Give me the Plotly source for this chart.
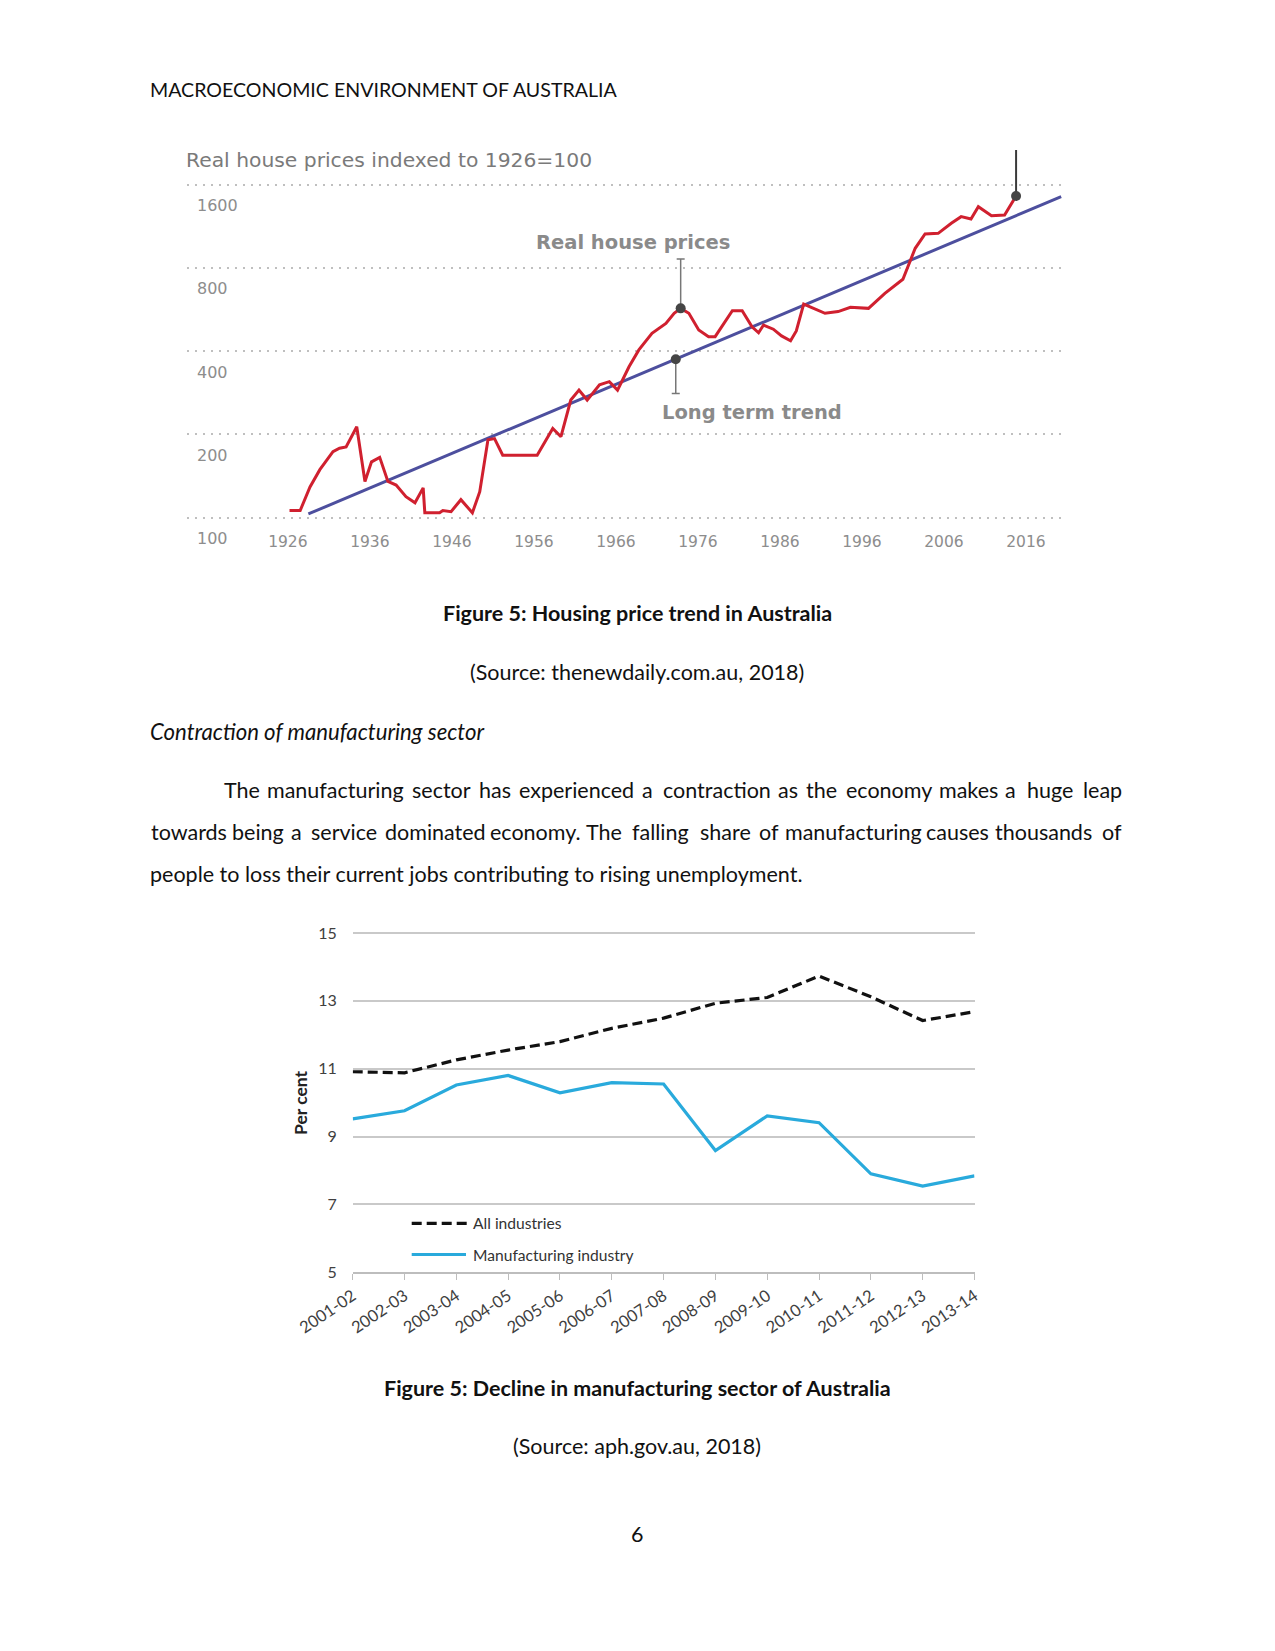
import plotly.graph_objects as go
import math

W, H = 1275, 1651

# ---------------- Chart 1 data: real house prices (index 1926=100) ----------------
house_years = [1926.2, 1927.5, 1928.7, 1929.9, 1931.5, 1932.3, 1933.1, 1934.4, 1935.4, 1936.2,
               1937.2, 1938.2, 1939.2, 1940.4, 1941.5, 1942.5, 1942.7, 1944.5, 1944.9, 1945.9,
               1947.1, 1948.5, 1949.4, 1950.4, 1951.2, 1952.2, 1956.4, 1958.3, 1959.3, 1960.5,
               1961.5, 1962.5, 1964.0, 1965.2, 1966.2, 1967.6, 1968.8, 1970.4, 1972.1, 1973.1,
               1973.9, 1974.9, 1976.1, 1977.3, 1978.1, 1979.4, 1980.2, 1981.4, 1982.6, 1983.4,
               1984.0, 1985.2, 1986.2, 1987.3, 1988.0, 1988.9, 1990.1, 1991.5, 1993.1, 1994.6,
               1996.8, 1998.8, 2001.0, 2001.6, 2002.5, 2003.7, 2005.3, 2006.9, 2008.1, 2009.3,
               2010.2, 2011.8, 2013.4, 2014.8]
house_index = [106, 106, 129, 149, 173, 178, 180, 213, 135, 159,
               165, 135, 131, 119, 113, 128, 104, 104, 106, 105,
               116, 104, 124, 191, 193, 168, 168, 210, 196, 266,
               289, 266, 302, 310, 289, 351, 404, 464, 504, 548,
               571, 548, 477, 451, 451, 518, 560, 560, 490, 466,
               497, 480, 454, 436, 473, 592, 571, 548, 556, 576,
               571, 647, 728, 808, 942, 1061, 1067, 1160, 1226, 1202,
               1332, 1236, 1243, 1456]
trend_years = [1928.5, 2020.3]
trend_index = [103, 1448]
# highlighted points: (year, value, error up, error down)
price_mark = (1973.9, 571, 291, 0)
trend_mark = (1973.3, 374, 0, 93)
latest_mark = (2014.8, 1456, 680, 0)
c1_year_ticks = [1926, 1936, 1946, 1956, 1966, 1976, 1986, 1996, 2006, 2016]
c1_value_ticks = [100, 200, 400, 800, 1600]

# ---------------- Chart 2 data ----------------
fy_labels = ["2001-02", "2002-03", "2003-04", "2004-05", "2005-06", "2006-07", "2007-08",
             "2008-09", "2009-10", "2010-11", "2011-12", "2012-13", "2013-14"]
all_industries = [10.91, 10.88, 11.26, 11.55, 11.80, 12.19, 12.49, 12.93, 13.10, 13.73, 13.12, 12.42, 12.68]
manufacturing = [9.52, 9.76, 10.52, 10.80, 10.29, 10.59, 10.55, 8.59, 9.61, 9.41, 7.90, 7.54, 7.84]
c2_value_ticks = [5, 7, 9, 11, 13, 15]


def px(x):
    return x / W


def py(y):
    return 1 - y / H


BODY = "Lato"
CH1 = "DejaVu Sans"
GREY1 = "#8d8d8d"

fig = go.Figure()

# ---- chart 1 traces ----
fig.add_trace(go.Scatter(x=trend_years, y=trend_index, mode="lines",
                         line=dict(color="#4d4f9e", width=3), xaxis="x", yaxis="y",
                         showlegend=False, hoverinfo="skip"))
fig.add_trace(go.Scatter(x=house_years, y=house_index, mode="lines",
                         line=dict(color="#d0202f", width=3), xaxis="x", yaxis="y",
                         showlegend=False))
for (mx, mv, up, dn), cap, ecol, ew in [(price_mark, 4, "#777777", 1.5),
                                        (trend_mark, 4, "#777777", 1.5),
                                        (latest_mark, 0, "#3a3a3a", 2)]:
    fig.add_trace(go.Scatter(x=[mx], y=[mv], mode="markers",
                             marker=dict(color="#454545", size=10),
                             error_y=dict(type="data", symmetric=False, array=[up], arrayminus=[dn],
                                          color=ecol, thickness=ew, width=cap),
                             xaxis="x", yaxis="y", showlegend=False))

# ---- chart 2 traces ----
fig.add_trace(go.Scatter(x=fy_labels, y=all_industries, mode="lines", name="All industries",
                         line=dict(color="#111111", width=3.2, dash="10px,5px"),
                         xaxis="x2", yaxis="y2", showlegend=False))
fig.add_trace(go.Scatter(x=fy_labels, y=manufacturing, mode="lines", name="Manufacturing industry",
                         line=dict(color="#29aadc", width=3.2),
                         xaxis="x2", yaxis="y2", showlegend=False))

# axis geometry (pixel measurements of the page)
c1_left, c1_right, c1_top, c1_bottom = 187, 1062, 140, 530
ylog_lo, ylog_hi = 1.9548, 3.3658
c2_left, c2_right = 352.7, 974.5
c2_bottom = 1272.3
c2_ymax = 15.3
c2_top = c2_bottom - (c2_ymax - 5) * 33.93

fig.update_layout(
    width=W, height=H, margin=dict(l=0, r=0, t=0, b=0, autoexpand=False),
    paper_bgcolor="white", plot_bgcolor="rgba(0,0,0,0)",
    xaxis=dict(domain=[px(c1_left), px(c1_right)], range=[1913.7, 2020.4],
               tickvals=c1_year_ticks, ticktext=[str(v) for v in c1_year_ticks],
               showgrid=False, zeroline=False, showline=False, ticks="", automargin=False,
               tickfont=dict(family=CH1, size=15.5, color=GREY1), ticklabelstandoff=0),
    yaxis=dict(domain=[py(c1_bottom), py(c1_top)], type="log", range=[ylog_lo, ylog_hi],
               tickvals=c1_value_ticks, showticklabels=False, showgrid=True, automargin=False,
               gridcolor="#bfbfbf", gridwidth=1.6, griddash="2px,6px",
               zeroline=False, showline=False, ticks=""),
    xaxis2=dict(domain=[px(c2_left), px(c2_right)], type="category", range=[0, 12],
                anchor="y2", showgrid=False, zeroline=False, showline=True, automargin=False,
                linecolor="#bdbdbd", linewidth=1.5, ticks="outside", ticklen=6,
                tickcolor="#bdbdbd", tickwidth=1.2, tickangle=-34,
                tickfont=dict(family=BODY, size=16.5, color="#404040")),
    yaxis2=dict(domain=[py(c2_bottom), py(c2_top)], range=[5, c2_ymax], anchor="x2",
                tickvals=c2_value_ticks, showgrid=True, gridcolor="#c9c9c9", gridwidth=1.5,
                zeroline=False, showline=False, ticks="", ticklabelstandoff=15, automargin=False,
                tickfont=dict(family=BODY, size=16, color="#404040")),
)

ann = []
# chart 1 y labels (sit below their gridlines)
for v in c1_value_ticks:
    ann.append(dict(x=px(195), xref="paper", y=math.log10(v), yref="y", yshift=-21,
                    text=str(v), showarrow=False, xanchor="left", yanchor="middle",
                    font=dict(family=CH1, size=16, color=GREY1)))
ann.append(dict(x=px(184), y=py(160), xref="paper", yref="paper",
                text="Real house prices indexed to 1926=100", showarrow=False,
                xanchor="left", yanchor="middle", font=dict(family=CH1, size=20.3, color="#7a7a7a")))
ann.append(dict(x=px(632.5), y=py(242), xref="paper", yref="paper",
                text="<b>Real house prices</b>", showarrow=False,
                xanchor="center", yanchor="middle", font=dict(family=CH1, size=19.5, color="#8a8a8a")))
ann.append(dict(x=px(751.7), y=py(413), xref="paper", yref="paper",
                text="<b>Long term trend</b>", showarrow=False,
                xanchor="center", yanchor="middle", font=dict(family=CH1, size=19.5, color="#8a8a8a")))

# chart 2 y title and legend
ann.append(dict(x=px(300), y=py(1103), xref="paper", yref="paper", text="<b>Per cent</b>",
                textangle=-90, showarrow=False, xanchor="center", yanchor="middle",
                font=dict(family=BODY, size=17.5, color="#222222")))
ann.append(dict(x=px(470.7), y=py(1223.3), xref="paper", yref="paper", text="All industries",
                showarrow=False, xanchor="left", yanchor="middle",
                font=dict(family=BODY, size=15.6, color="#333333")))
ann.append(dict(x=px(470.7), y=py(1254.5), xref="paper", yref="paper", text="Manufacturing industry",
                showarrow=False, xanchor="left", yanchor="middle",
                font=dict(family=BODY, size=15.6, color="#333333")))
shapes = [
    dict(type="line", xref="paper", yref="paper", x0=px(411.7), x1=px(468.3), y0=py(1223.3), y1=py(1223.3),
         line=dict(color="#111111", width=3.2, dash="10px,5px")),
    dict(type="line", xref="paper", yref="paper", x0=px(411.7), x1=px(466), y0=py(1254.5), y1=py(1254.5),
         line=dict(color="#29aadc", width=3.2)),
]

# page text
TXT = dict(family=BODY, size=21.5, color="#111111")


def text(x, y, s, anchor="left", font=TXT):
    ann.append(dict(x=px(x), y=py(y), xref="paper", yref="paper", text=s, showarrow=False,
                    xanchor=anchor, yanchor="middle", font=font))


text(148, 89, "MACROECONOMIC ENVIRONMENT OF AUSTRALIA", font=dict(family=BODY, size=19.6, color="#111111"))
text(637, 613, "<b>Figure 5: Housing price trend in Australia</b>", "center")
text(637, 672, "(Source: thenewdaily.com.au, 2018)", "center")
text(148, 731, "<i>Contraction of manufacturing sector</i>", font=dict(family=BODY, size=22.2, color="#111111"))

# justified paragraph lines: word start positions on the page
line1_words = ["The", "manufacturing", "sector", "has", "experienced", "a", "contraction", "as",
               "the", "economy", "makes", "a", "huge", "leap"]
line1_x = [226, 268.3, 413.3, 480, 520, 642.5, 663.3, 780, 806.7, 846, 941.7, 1005, 1026.7, 1083.3]
line2_words = ["towards", "being", "a", "service", "dominated", "economy.", "The", "falling",
               "share", "of", "manufacturing", "causes", "thousands", "of"]
line2_x = [151.7, 235, 289.3, 311.7, 385, 494, 585.7, 630.7, 700, 760, 786.7, 930, 993.3, 1101.7]


def place_line(words, starts, line_end, gap, y):
    for i, w in enumerate(words):
        end = starts[i + 1] - gap if i + 1 < len(words) else line_end
        text((starts[i] + end) / 2, y, w, "center")


place_line(line1_words, line1_x, 1122.5, 10.3, 790)
place_line(line2_words, line2_x, 1123, 9, 832)
text(148, 874, "people to loss their current jobs contributing to rising unemployment.")

text(637, 1388, "<b>Figure 5: Decline in manufacturing sector of Australia</b>", "center")
text(637, 1446, "(Source: aph.gov.au, 2018)", "center")
text(637, 1534, "6", "center")

fig.update_layout(annotations=ann, shapes=shapes)

fig.write_html("out.html", config={"displayModeBar": False},
               post_script="document.body.style.margin='0';document.body.style.overflow='hidden';")
